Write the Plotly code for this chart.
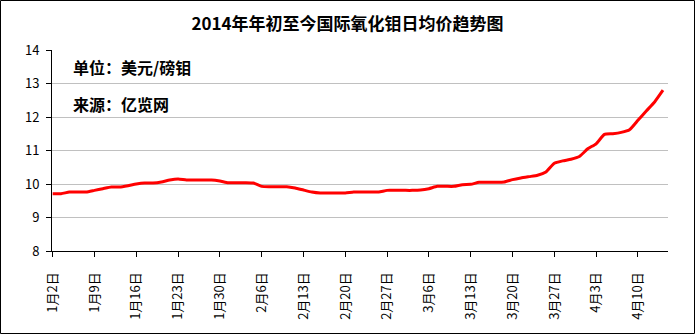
import plotly.graph_objects as go
import pandas as pd

# ---- data ----
title_text = "2014年年初至今国际氧化钼日均价趋势图"
unit_text = "单位：美元/磅钼"
source_text = "来源：亿览网"

dates = [d.strftime("%Y-%m-%d") for d in pd.bdate_range("2014-01-02", periods=74)]
prices = [
    9.71, 9.71, 9.76, 9.76, 9.76, 9.81, 9.86, 9.91, 9.91, 9.95,
    10.00, 10.03, 10.03, 10.06, 10.12, 10.15, 10.12, 10.12, 10.12, 10.12,
    10.09, 10.04, 10.04, 10.04, 10.03, 9.93, 9.92, 9.92, 9.92, 9.88,
    9.82, 9.76, 9.73, 9.73, 9.73, 9.73, 9.76, 9.76, 9.76, 9.76,
    9.81, 9.81, 9.81, 9.81, 9.82, 9.86, 9.93, 9.93, 9.93, 9.98,
    9.99, 10.05, 10.05, 10.05, 10.06, 10.13, 10.18, 10.22, 10.26, 10.36,
    10.62, 10.69, 10.74, 10.82, 11.05, 11.20, 11.48, 11.50, 11.54, 11.62,
    11.90, 12.18, 12.45, 12.80,
]
tick_labels = ["1月2日", "1月9日", "1月16日", "1月23日", "1月30日", "2月6日",
               "2月13日", "2月20日", "2月27日", "3月6日", "3月13日", "3月20日",
               "3月27日", "4月3日", "4月10日"]
tick_dates = dates[::5][:len(tick_labels)]
y_ticks = [8, 9, 10, 11, 12, 13, 14]

FONT = "Noto Sans CJK SC"
W, H = 695, 334
ML, MR, MT, MB = 52, 27, 50, 83
PW, PH = W - ML - MR, H - MT - MB

fig = go.Figure()
fig.add_trace(go.Scatter(
    x=dates, y=prices, mode="lines",
    line=dict(color="#ff0000", width=3, shape="spline", smoothing=0.5),
    hoverinfo="x+y", showlegend=False,
))

fig.update_layout(
    width=W, height=H,
    margin=dict(l=ML, r=MR, t=MT, b=MB),
    paper_bgcolor="white", plot_bgcolor="white",
    font=dict(family=FONT, color="black"),
    title=dict(text="<b>" + title_text + "</b>", x=0.5, xanchor="center",
               y=1 - 24 / H, yanchor="middle",
               font=dict(size=17, family=FONT, color="black")),
    xaxis=dict(
        type="category", range=[-0.08, 73.6],
        tickmode="array", tickvals=tick_dates, ticktext=tick_labels,
        tickangle=-90, ticks="outside", ticklen=5, tickcolor="black",
        showline=True, linecolor="black", linewidth=1,
        showgrid=False, zeroline=False,
        tickfont=dict(size=13, family=FONT, color="black"),
        ticklabelstandoff=10,
    ),
    yaxis=dict(
        range=[8, 14], tickmode="array", tickvals=y_ticks,
        ticks="outside", ticklen=5, tickcolor="black",
        showline=True, linecolor="black", linewidth=1,
        showgrid=True, gridcolor="#c0c0c0", gridwidth=1,
        zeroline=False,
        tickfont=dict(size=13, family=FONT, color="black"),
        ticklabelstandoff=4,
    ),
)

fig.add_annotation(text="<b>" + unit_text + "</b>", xref="paper", yref="paper",
                   x=(71 - ML) / PW, y=1 - (67 - MT) / PH, xanchor="left", yanchor="middle",
                   showarrow=False, font=dict(size=16, family=FONT, color="black"))
fig.add_annotation(text="<b>" + source_text + "</b>", xref="paper", yref="paper",
                   x=(71 - ML) / PW, y=1 - (104 - MT) / PH, xanchor="left", yanchor="middle",
                   showarrow=False, font=dict(size=16, family=FONT, color="black"))

# outer border
fig.add_shape(type="rect", xref="paper", yref="paper",
              x0=(0.5 - ML) / PW, x1=(W - 0.5 - ML) / PW,
              y0=-(MB - 0.5) / PH, y1=1 + (MT - 0.5) / PH,
              line=dict(color="black", width=1), fillcolor="rgba(0,0,0,0)", layer="above")

fig.write_html("out.html")
